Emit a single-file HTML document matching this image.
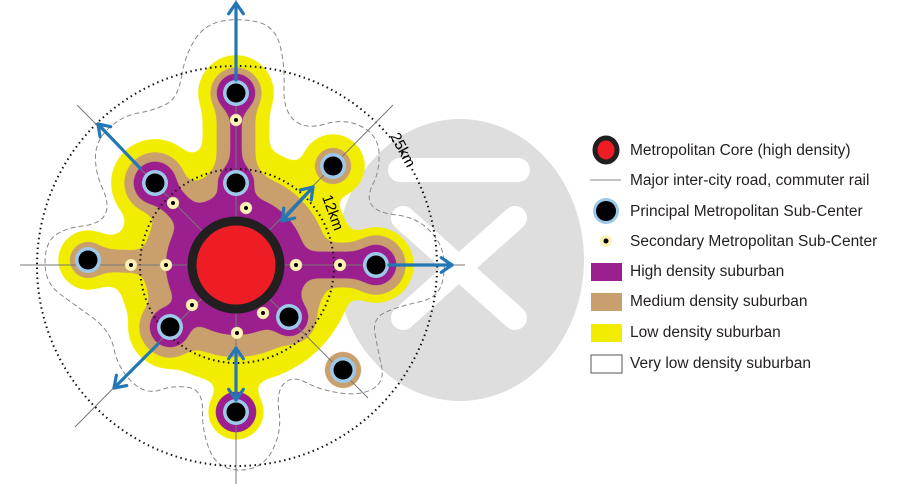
<!DOCTYPE html>
<html><head><meta charset="utf-8"><style>
html,body{margin:0;padding:0;background:#fff;width:910px;height:484px;overflow:hidden}
svg{display:block}
text{font-family:"Liberation Sans",sans-serif}
</style></head><body>
<svg id="s" width="910" height="484" viewBox="0 0 910 484">
<defs>
<filter id="goo" x="-20%" y="-20%" width="140%" height="140%" color-interpolation-filters="sRGB">
<feGaussianBlur in="SourceGraphic" stdDeviation="7" result="b"/>
<feColorMatrix in="b" type="matrix" values="1 0 0 0 0  0 1 0 0 0  0 0 1 0 0  0 0 0 22 -10"/>
</filter>
</defs>
<g>
<ellipse cx="460" cy="260" rx="124" ry="141" fill="#dedede"/>
<line x1="400" y1="170" x2="518" y2="170" stroke="#fff" stroke-width="24" stroke-linecap="round"/>
<line x1="403" y1="218" x2="515" y2="318" stroke="#fff" stroke-width="24" stroke-linecap="round"/>
<line x1="515" y1="218" x2="403" y2="318" stroke="#fff" stroke-width="24" stroke-linecap="round"/>
</g>
<g id="blobs"></g>
<path id="dash" fill="none" stroke="#888" stroke-width="1" stroke-dasharray="5,3"/>
<circle cx="237" cy="266" r="200" fill="none" stroke="#111" stroke-width="2" stroke-dasharray="1.5,3.5"/>
<circle cx="237" cy="266" r="97" fill="none" stroke="#111" stroke-width="2" stroke-dasharray="1.5,3.5"/>
<g stroke="#777" stroke-width="1">
<line x1="20" y1="265" x2="465" y2="265"/>
<line x1="236" y1="0" x2="236" y2="484"/>
<line x1="77" y1="105" x2="368" y2="398"/>
<line x1="393" y1="105" x2="75" y2="427"/>
</g>
<g id="core">
<circle cx="236" cy="265" r="44" fill="#ee1c25" stroke="#231f20" stroke-width="9"/>
</g>
<g id="subs"></g>
<g id="arrows" stroke="#2377b5" stroke-width="3.2" fill="none" stroke-linecap="round" stroke-linejoin="round"></g>
<text x="0" y="0" font-size="15" transform="translate(390,136) rotate(62)">25km</text>
<text x="0" y="0" font-size="15" transform="translate(322,197) rotate(70)">12km</text>
<g id="legend"></g>
</svg>
<script>
const principal=[[236,93],[155,183],[236,183],[333,166],[88,260],[376,265],[170,327],[289,317],[343,370],[236,412]];
const secondary=[[236,120],[173,203],[246,208],[131,265],[166,265],[296,265],[340,265],[192,305],[263,313],[237,333]];
const legendLabels=["Metropolitan Core (high density)","Major inter-city road, commuter rail","Principal Metropolitan Sub-Center","Secondary Metropolitan Sub-Center","High density suburban","Medium density suburban","Low density suburban","Very low density suburban"];
const NS='http://www.w3.org/2000/svg';
function mk(p,t,a){const e=document.createElementNS(NS,t);for(const k in a)e.setAttribute(k,a[k]);p.appendChild(e);return e;}
const C=[236,265];
const blobs=document.getElementById('blobs');
const Y='#f2ed00',T='#c9a06d',P='#9b1f8e';
const layers=[
 [Y,118,[[0,66,38],[1,70,44],[2,70,38],[3,44,32],[4,50,30],[5,64,38],[6,66,42],[7,66,40],[9,40,28],[8,0,0]]],
 [T,92,[[0,38,26],[1,48,31],[2,48,27],[3,0,19],[4,22,19],[5,44,30],[6,48,31],[7,46,28],[8,0,19],[9,0,0]]],
 [P,70,[[0,12,20],[1,26,22],[2,24,19],[5,26,21],[6,26,21],[7,26,20],[9,0,21]]]
];
layers.forEach(([col,r,arms],li)=>{
 const g=mk(blobs,'g',{fill:col,stroke:col,'stroke-linecap':'round',filter:'url(#goo)'});
 mk(g,'circle',{cx:C[0],cy:C[1],r:r,stroke:'none'});
 arms.forEach(([i,w,er])=>{const p=principal[i];
  if(w>0)mk(g,'line',{x1:C[0],y1:C[1],x2:p[0],y2:p[1],'stroke-width':w});
  if(er>0)mk(g,'circle',{cx:p[0],cy:p[1],r:er,stroke:'none'});});
 if(li===0){mk(g,'line',{x1:236,y1:330,x2:236,y2:412,'stroke-width':34});}
});
const dp=[[185,55],[205,24],[240,18],[275,26],[285,65],[283,110],[305,130],[345,118],[378,135],[380,170],[366,198],[378,213],[415,217],[440,240],[446,268],[438,298],[400,306],[372,318],[378,350],[385,382],[360,396],[320,390],[292,375],[276,392],[282,432],[262,470],[218,470],[202,432],[203,390],[175,385],[145,395],[118,368],[110,330],[75,305],[45,283],[45,243],[65,228],[100,224],[110,205],[95,172],[96,140],[122,116],[155,110],[178,98]];
let d='';const n=dp.length;
for(let i=0;i<n;i++){const a=dp[i],b=dp[(i+1)%n];const m=[(a[0]+b[0])/2,(a[1]+b[1])/2];
 if(i===0){const z=dp[n-1];d+=`M${(z[0]+a[0])/2},${(z[1]+a[1])/2}`;}
 d+=` Q${a[0]},${a[1]} ${m[0]},${m[1]}`;}
document.getElementById('dash').setAttribute('d',d+'Z');
const subs=document.getElementById('subs');
principal.forEach(p=>{const g=mk(subs,'g',{});
 
 
 mk(g,'circle',{cx:p[0],cy:p[1],r:13,fill:'#9cc8ea'});
 mk(g,'circle',{cx:p[0],cy:p[1],r:9.5,fill:'#000'});});
secondary.forEach(p=>{const g=mk(subs,'g',{});
 
 
 mk(g,'circle',{cx:p[0],cy:p[1],r:6,fill:'#fdf1b8',stroke:'#d8c98a','stroke-width':0.5});
 mk(g,'circle',{cx:p[0],cy:p[1],r:2,fill:'#000'});});
const A=document.getElementById('arrows');
function head(x,y,ang){const l=13,s=0.6;
 mk(A,'path',{d:`M${x-l*Math.cos(ang-s)},${y-l*Math.sin(ang-s)} L${x},${y} L${x-l*Math.cos(ang+s)},${y-l*Math.sin(ang+s)}`});}
function arrow(x1,y1,x2,y2,dbl){mk(A,'line',{x1,y1,x2,y2});const a=Math.atan2(y2-y1,x2-x1);head(x2,y2,a);if(dbl)head(x1,y1,a+Math.PI);}
arrow(236,80,236,3);arrow(140,168,98,124);arrow(389,265,452,265);arrow(158,344,114,388);
arrow(236,348,236,400,true);arrow(282,221,313,187,true);
const L=document.getElementById('legend');
const ly=[150,180,211,241,271,301,332,363];
legendLabels.forEach((t,i)=>{const y=ly[i];const g=mk(L,'g',{});
 
 
 if(i===0){mk(g,'ellipse',{cx:606,cy:y,rx:11,ry:12,fill:'#ee1c25',stroke:'#231f20','stroke-width':5});}
 else if(i===1){mk(g,'line',{x1:590,y1:y,x2:621,y2:y,stroke:'#888','stroke-width':1});}
 else if(i===2){mk(g,'circle',{cx:606,cy:y,r:13,fill:'#9cc8ea'});mk(g,'circle',{cx:606,cy:y,r:10,fill:'#000'});}
 else if(i===3){mk(g,'circle',{cx:606,cy:y,r:6,fill:'#fdf1b8'});mk(g,'circle',{cx:606,cy:y,r:2.5,fill:'#000'});}
 else{const f=[P,T,Y,'#fff'][i-4];mk(g,'rect',{x:591,y:y-8,width:31,height:18,fill:f,stroke:i===7?'#555':'none','stroke-width':1});}
 const tx=mk(g,'text',{x:630,y:y+5,'font-size':15.5,fill:'#231f20'});tx.textContent=t;});
</script>
</body></html>
